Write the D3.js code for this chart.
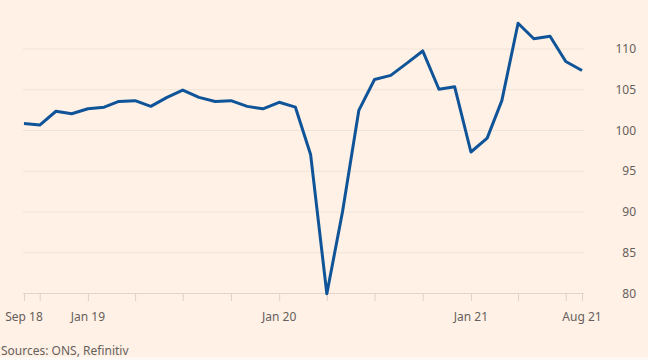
<!DOCTYPE html>
<html>
<head>
<meta charset="utf-8">
<script src="https://cdn.jsdelivr.net/npm/d3@7"></script>
<style>
  html, body { margin: 0; padding: 0; background: #fff1e5; }
  svg { display: block; }
  text { font-family: "Noto Sans", "Open Sans", sans-serif; fill: #66605c; }
</style>
</head>
<body>
<svg id="chart" width="648" height="360"></svg>
<script>
const months = ["2018-09","2018-10","2018-11","2018-12","2019-01","2019-02","2019-03","2019-04","2019-05","2019-06","2019-07","2019-08","2019-09","2019-10","2019-11","2019-12","2020-01","2020-02","2020-03","2020-04","2020-05","2020-06","2020-07","2020-08","2020-09","2020-10","2020-11","2020-12","2021-01","2021-02","2021-03","2021-04","2021-05","2021-06","2021-07","2021-08"];
const values = [100.8,100.6,102.3,102.0,102.6,102.8,103.5,103.6,102.9,104.0,104.9,104.0,103.5,103.6,102.9,102.6,103.4,102.8,97.0,79.9,90.0,102.4,106.2,106.7,108.2,109.7,105.0,105.3,97.3,99.0,103.6,113.1,111.2,111.5,108.4,107.3];
const yTicks = [80, 85, 90, 95, 100, 105, 110];
const xTickMonths = ["2018-09","2018-10","2019-01","2019-04","2019-07","2019-10","2020-01","2020-04","2020-07","2020-10","2021-01","2021-04","2021-07","2021-08"];
const xLabels = [["2018-09","Sep 18"],["2019-01","Jan 19"],["2020-01","Jan 20"],["2021-01","Jan 21"],["2021-08","Aug 21"]];
const source = "Sources: ONS, Refinitiv";

const parse = d3.timeParse("%Y-%m");
const data = months.map((m, i) => ({ date: parse(m), value: values[i] }));

const svg = d3.select("#chart");
svg.append("rect").attr("width", 648).attr("height", 357).attr("fill", "#fff1e5");
svg.append("rect").attr("y", 357).attr("width", 648).attr("height", 3).attr("fill", "#fdf8f3");

const x = d3.scaleTime().domain([parse("2018-09"), parse("2021-08")]).range([24, 582]);
const y = d3.scaleLinear().domain([80, 110]).range([293, 48.5]);

// gridlines + right labels
const yAxis = d3.axisRight(y).tickValues(yTicks).tickSize(561).tickPadding(0).tickFormat(d3.format("d"));
const gy = svg.append("g").attr("transform", "translate(23,0)").call(yAxis);
gy.select(".domain").remove();
gy.selectAll(".tick line").attr("stroke", d => d === 80 ? "#e3d5c8" : "#efe3d7").attr("stroke-width", 1);
gy.selectAll(".tick text").attr("x", 590).attr("text-anchor", "end").attr("dx", 23)
  .attr("font-size", 12).attr("fill", "#66605c").attr("dy", "0.34em");

// x ticks
const xAxis = d3.axisBottom(x).tickValues(xTickMonths.map(parse)).tickSize(8).tickFormat("");
const gx = svg.append("g").attr("transform", "translate(0,293)").call(xAxis);
gx.select(".domain").remove();
gx.selectAll(".tick line").attr("stroke", "#e0d2c5");

svg.append("g").selectAll("text").data(xLabels).join("text")
  .attr("x", d => x(parse(d[0])))
  .attr("y", 317)
  .attr("dy", "0.34em")
  .attr("text-anchor", "middle")
  .attr("font-size", 12)
  .text(d => d[1]);

// line
const line = d3.line().x(d => x(d.date)).y(d => y(d.value));
svg.append("path").datum(data)
  .attr("fill", "none")
  .attr("stroke", "#0f5499")
  .attr("stroke-width", 3)
  .attr("stroke-linejoin", "round")
  .attr("d", line);

svg.append("text").attr("x", 1).attr("y", 351).attr("dy", "0.34em")
  .attr("font-size", 12).text(source);
</script>
</body>
</html>
